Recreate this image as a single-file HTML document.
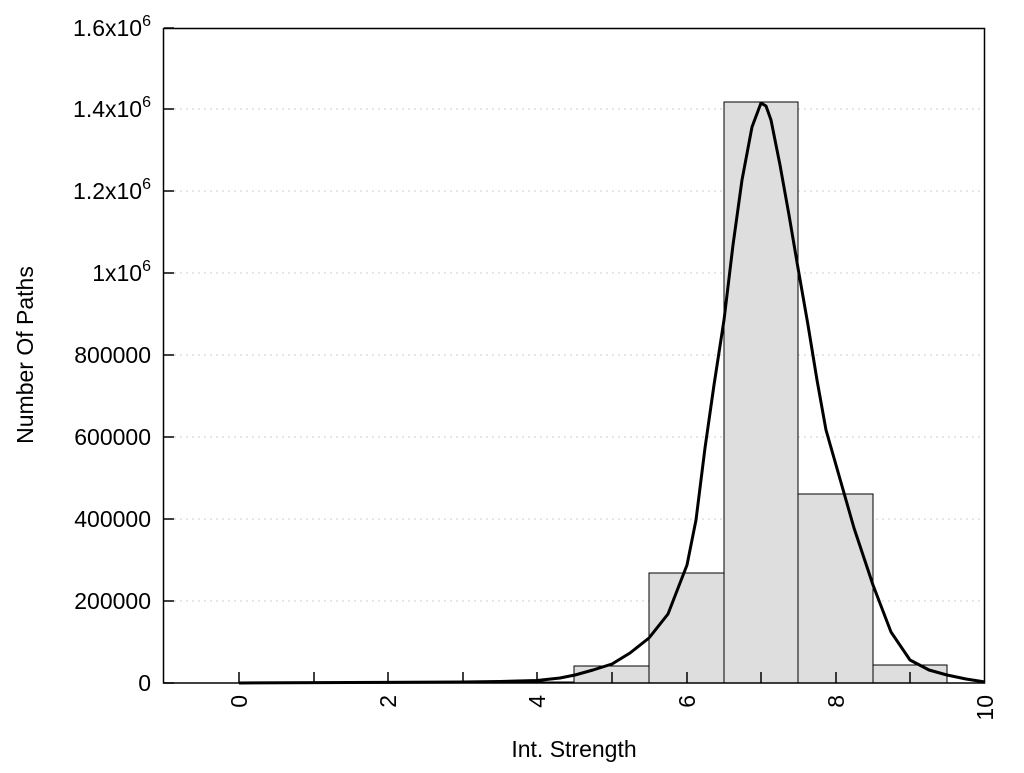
<!DOCTYPE html>
<html><head><style>body{margin:0;background:#fff}svg text{font-family:"Liberation Sans",sans-serif;font-size:23px;fill:#000}</style></head><body>
<svg width="1024" height="768" viewBox="0 0 1024 768" xmlns="http://www.w3.org/2000/svg">
<g stroke="#ccc" stroke-width="1" stroke-dasharray="2,4">
<line x1="174" y1="601" x2="985" y2="601"/><line x1="174" y1="519" x2="985" y2="519"/><line x1="174" y1="437" x2="985" y2="437"/><line x1="174" y1="355" x2="985" y2="355"/><line x1="174" y1="273" x2="985" y2="273"/><line x1="174" y1="191" x2="985" y2="191"/><line x1="174" y1="109" x2="985" y2="109"/>
</g>
<g fill="#dedede" stroke="#000" stroke-width="1">
<rect x="239" y="682" width="335" height="1"/>
<rect x="574" y="666" width="75" height="17"/>
<rect x="649" y="573" width="75" height="110"/>
<rect x="724" y="102" width="74" height="581"/>
<rect x="798" y="494" width="75" height="189"/>
<rect x="873" y="665" width="74" height="18"/>
</g>
<rect x="163.5" y="28.5" width="821" height="654.5" fill="none" stroke="#000" stroke-width="1.5"/>
<g stroke="#000" stroke-width="1.5">
<line x1="164" y1="683" x2="174" y2="683"/><line x1="164" y1="601" x2="174" y2="601"/><line x1="164" y1="519" x2="174" y2="519"/><line x1="164" y1="437" x2="174" y2="437"/><line x1="164" y1="355" x2="174" y2="355"/><line x1="164" y1="273" x2="174" y2="273"/><line x1="164" y1="191" x2="174" y2="191"/><line x1="164" y1="109" x2="174" y2="109"/><line x1="164" y1="28" x2="174" y2="28"/>
<line x1="239" y1="683" x2="239" y2="672"/><line x1="314" y1="683" x2="314" y2="672"/><line x1="388" y1="683" x2="388" y2="672"/><line x1="463" y1="683" x2="463" y2="672"/><line x1="537" y1="683" x2="537" y2="672"/><line x1="612" y1="683" x2="612" y2="672"/><line x1="687" y1="683" x2="687" y2="672"/><line x1="761" y1="683" x2="761" y2="672"/><line x1="836" y1="683" x2="836" y2="672"/><line x1="910" y1="683" x2="910" y2="672"/>
</g>
<polyline fill="none" stroke="#000" stroke-width="3" stroke-linejoin="round" points="239,683 463,682 500,681.5 537,680.5 560,678 575,675 593,670 612,664 630,653 649,638 668,614 687,565 696,520 705,448 714,385 724,320 733,245 742,180 752,127 761,103 766,106 771,120 780,165 789,215 798,268 808,325 817,380 826,430 836,465 854,528 873,585 891,632 910,660 929,670 947,675 966,679 985,682"/>
<g text-anchor="end">
<text x="151" y="691">0</text><text x="151" y="609">200000</text><text x="151" y="527">400000</text><text x="151" y="445">600000</text><text x="151" y="363">800000</text>
<text x="151" y="281">1x10<tspan dy="-10" font-size="16">6</tspan></text>
<text x="151" y="199">1.2x10<tspan dy="-10" font-size="16">6</tspan></text>
<text x="151" y="117">1.4x10<tspan dy="-10" font-size="16">6</tspan></text>
<text x="151" y="36">1.6x10<tspan dy="-10" font-size="16">6</tspan></text>
</g>
<g text-anchor="end">
<text transform="translate(247,695) rotate(-90)">0</text>
<text transform="translate(396,695) rotate(-90)">2</text>
<text transform="translate(545,695) rotate(-90)">4</text>
<text transform="translate(695,695) rotate(-90)">6</text>
<text transform="translate(844,695) rotate(-90)">8</text>
<text transform="translate(993,695) rotate(-90)">10</text>
</g>
<text x="574" y="757" text-anchor="middle">Int. Strength</text>
<text transform="translate(33,355) rotate(-90)" text-anchor="middle">Number Of Paths</text>
</svg>
</body></html>
